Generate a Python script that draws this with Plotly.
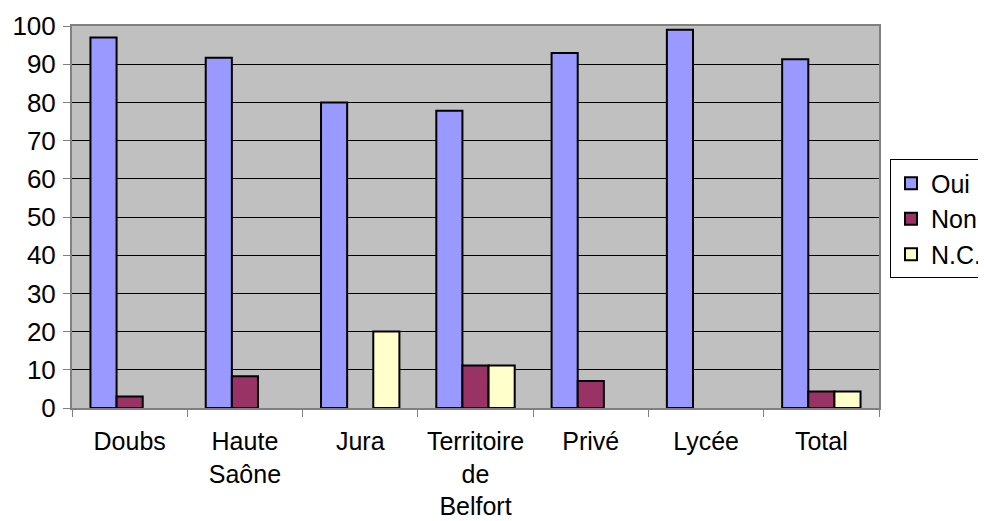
import plotly.graph_objects as go

categories = ["Doubs", "Haute<br>Saône", "Jura", "Territoire<br>de<br>Belfort", "Privé", "Lycée", "Total"]
oui = [97.0, 91.7, 80.0, 77.8, 92.9, 99.0, 91.3]
non = [3.0, 8.3, None, 11.1, 7.1, None, 4.3]
nc = [None, None, 20.0, 11.1, None, None, 4.3]

series = [("Oui", oui, "#9999FF"), ("Non", non, "#993366"), ("N.C.", nc, "#FFFFCC")]

FONT = "Liberation Sans, Arial, sans-serif"

fig = go.Figure()
for name, vals, col in series:
    fig.add_trace(go.Bar(
        x=categories, y=vals, name=name,
        marker=dict(color=col, line=dict(color="black", width=2)),
    ))

# page body has an 8px margin, so the figure sits at (8, 8) in the window
fig.update_layout(
    barmode="group", bargap=0.32, bargroupgap=0,
    width=986, height=521,
    margin=dict(l=64, r=115, t=18, b=121, autoexpand=False),
    paper_bgcolor="white", plot_bgcolor="#C0C0C0",
    font=dict(family=FONT, size=26, color="black"),
    legend=dict(
        x=1.0136, y=0.495, xanchor="left", yanchor="middle",
        bordercolor="black", borderwidth=1, bgcolor="white",
        font=dict(size=25), itemwidth=30, tracegroupgap=0,
    ),
)
fig.update_xaxes(
    type="category", tickson="boundaries", ticks="outside", ticklen=7,
    tickcolor="#808080", showline=True, linecolor="#808080", linewidth=2,
    mirror=True, showgrid=False, ticklabelstandoff=10,
    tickfont=dict(size=25),
)
fig.update_yaxes(
    range=[0, 100], dtick=10, ticks="outside", ticklen=7, tickcolor="#808080",
    showline=True, linecolor="#808080", linewidth=2, mirror=True,
    showgrid=True, gridcolor="black", gridwidth=1, zeroline=False,
    ticklabelstandoff=2,
)

fig.write_html("out.html")
